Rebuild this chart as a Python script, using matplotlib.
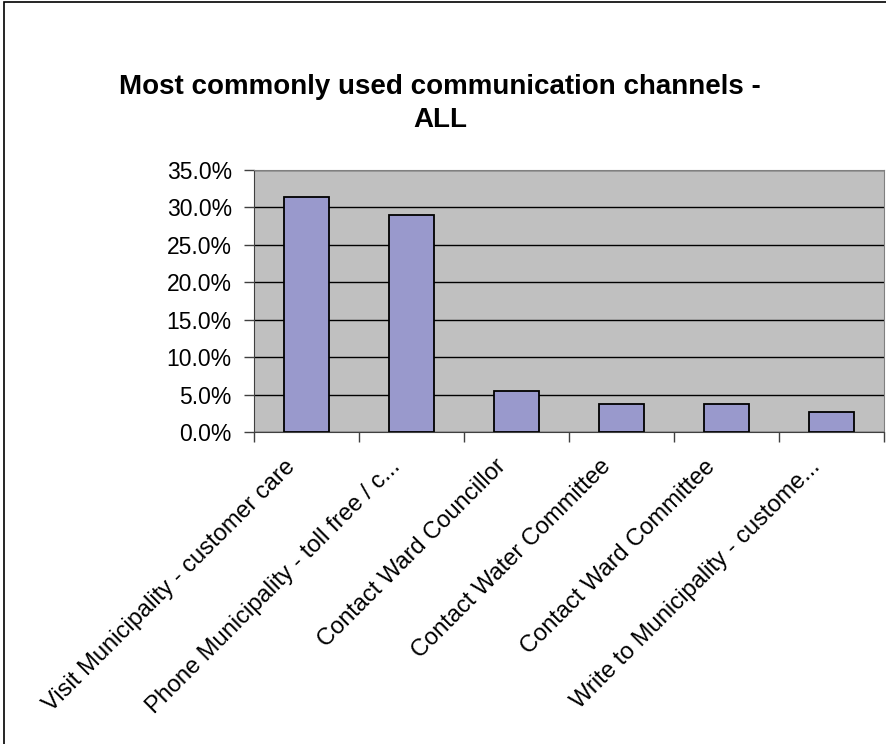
import matplotlib
matplotlib.use('Agg')
import matplotlib.pyplot as plt
import matplotlib.transforms as mtransforms
from matplotlib.patches import Rectangle
from matplotlib.ticker import FuncFormatter

plt.rcParams['font.family'] = ['Liberation Sans', 'DejaVu Sans']

# channels and share of respondents
channels = ['Visit Municipality - customer care',
            'Phone Municipality - toll free / c...',
            'Contact Ward Councillor',
            'Contact Water Committee',
            'Contact Ward Committee',
            'Write to Municipality - custome...']
shares = [31.4, 29.0, 5.5, 3.8, 3.8, 2.7]
yticks = [0, 5, 10, 15, 20, 25, 30, 35]

fig = plt.figure(figsize=(8.86, 7.44), dpi=100)
ax = fig.add_axes([0.2867, 0.4194, 0.7110, 0.3521])

x = list(range(len(channels)))
ax.bar(x, shares, width=0.42, color='#9999CC', edgecolor='black', linewidth=1.3, zorder=3)

ax.set_facecolor('#C0C0C0')
ax.set_xlim(-0.5, len(channels) - 0.5)
ax.set_ylim(0, 35)
ax.set_yticks(yticks)
ax.yaxis.set_major_formatter(FuncFormatter(lambda v, p: f'{v:.1f}%'))
ax.grid(axis='y', color='black', linewidth=1, zorder=1)

# category boundary ticks below the axis
ax.set_xticks([i - 0.5 for i in range(len(channels) + 1)], minor=True)
ax.set_xticks(x)
ax.set_xticklabels(channels, rotation=45, ha='right', rotation_mode='anchor', fontsize=17)
ax.tick_params(axis='x', which='major', length=0, pad=17)
ax.tick_params(axis='x', which='minor', length=7, width=1, direction='out', color='#404040')
ax.tick_params(axis='y', length=7, width=1, color='#404040', labelsize=16.5, pad=9)
shift = mtransforms.ScaledTranslation(-0.22, 0, fig.dpi_scale_trans)
for lbl in ax.get_xticklabels():
    lbl.set_transform(lbl.get_transform() + shift)

for side in ['top', 'right']:
    ax.spines[side].set_color('#808080')
for side in ['left', 'bottom']:
    ax.spines[side].set_color('#404040')

fig.text(0.497, 0.861, 'Most commonly used communication channels -\nALL',
         ha='center', va='center', fontsize=20, fontweight='bold', linespacing=1.35)

fig.patches.append(Rectangle((0.005, -0.05), 1.2, 1.047, transform=fig.transFigure,
                             fill=False, edgecolor='black', linewidth=1.2))

fig.savefig('out.png', dpi=100)
